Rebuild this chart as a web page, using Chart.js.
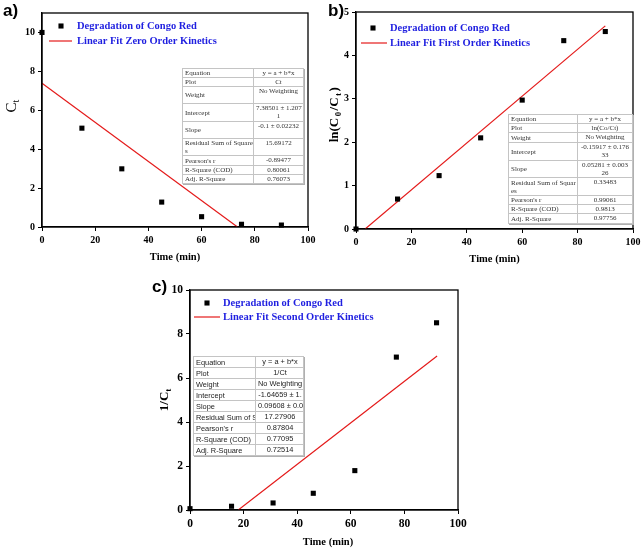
<!DOCTYPE html>
<html>
<head>
<meta charset="utf-8">
<script src="https://cdn.jsdelivr.net/npm/chart.js@4.4.1/dist/chart.umd.min.js"></script>
<style>
body { margin: 0; background: #fff; }
#page { position: relative; width: 644px; height: 550px; overflow: hidden; background: #fff; }
canvas { position: absolute; }
.lbl { position: absolute; font: bold 17px "Liberation Sans", Arial, sans-serif; color: #000; }
table.fit { position: absolute; border-collapse: collapse; table-layout: fixed; background: #fff; box-shadow: 1px 1px 0 #b0b0b0; }
table.fit td { border: 1px solid #c4c4c4; padding: 0 2px; overflow: hidden; white-space: pre; color: #333; }
table.fit td.v { text-align: center; vertical-align: top; }
table.fit td.k { vertical-align: middle; }
table.serif td { font: 7px/8px "Liberation Serif", serif; }
table.sans td { font: 7.4px/9px "Liberation Sans", sans-serif; color: #222; padding: 0 1px 0 2px; }
</style>
</head>
<body>
<div id="page">
  <canvas id="chartA" width="320" height="275" style="left:0;top:0"></canvas>
  <canvas id="chartB" width="324" height="275" style="left:320px;top:0"></canvas>
  <canvas id="chartC" width="330" height="270" style="left:150px;top:280px"></canvas>
  <div class="lbl" style="left:3px;top:1px">a)</div>
  <div class="lbl" style="left:328px;top:1px">b)</div>
  <div class="lbl" style="left:152px;top:277px">c)</div>
</div>
<script>
// a) zero order
const timeA = [0, 15, 30, 45, 60, 75, 90];
const ctValues = [10, 5.08, 2.99, 1.28, 0.53, 0.14, 0.1];
const fitZeroX = [0, 73.5];
const fitZeroY = [7.385, 0];

// b) first order
const timeB = [0, 15, 30, 45, 60, 75, 90];
const lnValues = [0, 0.69, 1.23, 2.1, 2.97, 4.34, 4.55];
const fitFirstX = [3.3, 90];
const fitFirstY = [0, 4.68];

// c) second order
const timeC = [0, 15.5, 31, 46, 61.5, 77, 92];
const invValues = [0.06, 0.17, 0.32, 0.76, 1.79, 6.95, 8.51];
const fitSecondX = [18, 92.2];
const fitSecondY = [0, 7.0];

const xTicks = [0, 20, 40, 60, 80, 100];

// fit tables
const keysA = ['Equation', 'Plot', 'Weight', 'Intercept', 'Slope', 'Residual Sum of Square\ns', "Pearson's r", 'R-Square (COD)', 'Adj. R-Square'];
const valsA = ['y = a + b*x', 'Ct', 'No Weighting', '7.38501 ± 1.207\n1', '-0.1 ± 0.02232', '15.69172', '-0.89477', '0.80061', '0.76073'];
const keysB = ['Equation', 'Plot', 'Weight', 'Intercept', 'Slope', 'Residual Sum of Squar\nes', "Pearson's r", 'R-Square (COD)', 'Adj. R-Square'];
const valsB = ['y = a + b*x', 'ln(Co/Ct)', 'No Weighting', '-0.15917 ± 0.176\n33', '0.05281 ± 0.003\n26', '0.33483', '0.99061', '0.9813', '0.97756'];
const keysC = ['Equation', 'Plot', 'Weight', 'Intercept', 'Slope', 'Residual Sum of S', "Pearson's r", 'R-Square (COD)', 'Adj. R-Square'];
const valsC = ['y = a + b*x', '1/Ct', 'No Weighting', '-1.64659 ± 1.', '0.09608 ± 0.0', '17.27906', '0.87804', '0.77095', '0.72514'];

const serif = '"Liberation Serif", "Times New Roman", serif';
const blue = '#1f1fe0';
const red = '#e41a1a';

function makeTable(keys, vals, rows, pos, cls) {
    const t = document.createElement('table');
    t.className = 'fit ' + cls;
    t.style.left = pos.left + 'px';
    t.style.top = pos.top + 'px';
    t.style.width = pos.w + 'px';
    const cg = document.createElement('colgroup');
    cg.innerHTML = '<col style="width:' + pos.kw + 'px"><col style="width:' + (pos.w - pos.kw) + 'px">';
    t.appendChild(cg);
    keys.forEach((k, i) => {
        const tr = document.createElement('tr');
        tr.style.height = rows[i] + 'px';
        const a = document.createElement('td'); a.className = 'k'; a.textContent = k;
        const b = document.createElement('td'); b.className = 'v'; b.textContent = vals[i];
        tr.appendChild(a); tr.appendChild(b);
        t.appendChild(tr);
    });
    document.getElementById('page').appendChild(t);
}

makeTable(keysA, valsA, [9, 9, 17, 18, 17, 17, 10, 8, 9], {left: 182, top: 68, w: 121, kw: 71}, 'serif');
makeTable(keysB, valsB, [9, 9, 10, 18, 17, 18, 9, 9, 10], {left: 508, top: 114, w: 124, kw: 69}, 'serif');
makeTable(keysC, valsC, [11, 11, 11, 11, 11, 11, 11, 11, 11], {left: 193, top: 356, w: 110, kw: 62}, 'sans');

// frame, legend and axis titles
const decor = {
    id: 'decor',
    afterDraw(chart, args, o) {
        const ctx = chart.ctx, a = chart.chartArea;
        ctx.save();
        ctx.strokeStyle = '#000';
        ctx.lineWidth = 1.3;
        ctx.strokeRect(a.left, a.top, a.right - a.left, a.bottom - a.top);

        // legend
        const lg = o.legend;
        ctx.fillStyle = '#000';
        Chart.helpers.drawPoint(ctx, {pointStyle: 'rect', radius: 3.6, rotation: 0, borderWidth: 0}, lg.mx, lg.y1);
        ctx.strokeStyle = red;
        ctx.lineWidth = 1.2;
        ctx.beginPath();
        ctx.moveTo(lg.l1, lg.y2);
        ctx.lineTo(lg.l2, lg.y2);
        ctx.stroke();
        ctx.fillStyle = blue;
        ctx.font = 'bold ' + lg.size + 'px ' + serif;
        ctx.textBaseline = 'middle';
        ctx.textAlign = 'left';
        ctx.fillText(lg.t1, lg.tx, lg.y1);
        ctx.fillText(lg.t2, lg.tx, lg.y2);

        // x title
        ctx.fillStyle = '#000';
        ctx.textAlign = 'center';
        ctx.font = 'bold 10.5px ' + serif;
        ctx.fillText('Time (min)', o.xt.x, o.xt.y);

        // y title with subscripts
        const yt = o.yt;
        ctx.translate(yt.x, yt.y);
        ctx.rotate(-Math.PI / 2);
        ctx.textAlign = 'left';
        const fnt = p => yt.weight + ' ' + (p.sub ? yt.size * 0.68 : yt.size) + 'px ' + serif;
        let total = 0;
        const widths = yt.parts.map(p => {
            ctx.font = fnt(p);
            const w = ctx.measureText(p.t).width + (yt.spacing || 0);
            total += w;
            return w;
        });
        let x = -total / 2;
        yt.parts.forEach((p, i) => {
            ctx.font = fnt(p);
            ctx.fillText(p.t, x, p.sub ? yt.size * 0.3 : 0);
            x += widths[i];
        });
        ctx.restore();
    }
};

function axes(yMax, yStep, yWidth, xHeight, tickSize) {
    const tickFont = {family: serif, size: tickSize, weight: 'bold'};
    const grid = {drawOnChartArea: false, color: '#000', tickLength: 4, lineWidth: 1};
    return {
        x: {
            type: 'linear', min: 0, max: 100,
            ticks: {stepSize: 20, color: '#000', font: tickFont, padding: 3, maxRotation: 0, includeBounds: false},
            afterBuildTicks: s => { s.ticks = xTicks.map(v => ({value: v})); },
            grid: grid,
            border: {color: '#000', width: 1.3},
            afterFit: s => { s.height = xHeight; }
        },
        y: {
            type: 'linear', min: 0, max: yMax,
            ticks: {stepSize: yStep, color: '#000', font: tickFont, padding: 3, includeBounds: false},
            grid: grid,
            border: {color: '#000', width: 1.3},
            afterFit: s => { s.width = yWidth; }
        }
    };
}

function pts(xs, ys) {
    return xs.map((x, i) => ({x: x, y: ys[i]}));
}

function makeChart(id, xs, ys, fx, fy, cfg) {
    return new Chart(document.getElementById(id), {
        type: 'scatter',
        data: {
            datasets: [{
                data: pts(xs, ys),
                pointStyle: 'rect',
                pointRadius: 3.6,
                backgroundColor: '#000',
                borderWidth: 0,
                clip: false
            }, {
                type: 'line',
                data: pts(fx, fy),
                borderColor: red,
                borderWidth: 1.2,
                pointRadius: 0,
                fill: false
            }]
        },
        options: {
            responsive: false,
            animation: false,
            layout: {padding: {left: 0, top: cfg.top, right: cfg.right, bottom: 0}},
            scales: axes(cfg.yMax, cfg.yStep, cfg.yWidth, cfg.xHeight, cfg.tickSize),
            plugins: {
                legend: {display: false},
                tooltip: {enabled: false},
                decor: cfg.decor
            }
        },
        plugins: [decor]
    });
}

makeChart('chartA', timeA, ctValues, fitZeroX, fitZeroY, {
    top: 13, right: 12, yWidth: 42, xHeight: 48, yMax: 11, yStep: 2, tickSize: 10,
    decor: {
        legend: {mx: 61, y1: 26, l1: 49, l2: 72, y2: 41, tx: 77, size: 10.5,
            t1: 'Degradation of Congo Red', t2: 'Linear Fit Zero Order Kinetics'},
        xt: {x: 175, y: 257},
        yt: {x: 12, y: 106, size: 15, weight: 'normal', parts: [{t: 'C'}, {t: 't', sub: true}]}
    }
});

makeChart('chartB', timeB, lnValues, fitFirstX, fitFirstY, {
    top: 12, right: 11, yWidth: 36, xHeight: 46, yMax: 5, yStep: 1, tickSize: 10,
    decor: {
        legend: {mx: 53, y1: 28, l1: 41, l2: 67, y2: 43, tx: 70, size: 10.5,
            t1: 'Degradation of Congo Red', t2: 'Linear Fit First Order Kinetics'},
        xt: {x: 174.5, y: 259},
        yt: {x: 15, y: 114, size: 13, weight: 'bold', spacing: 1.5,
            parts: [{t: 'ln(C'}, {t: '0', sub: true}, {t: '/C'}, {t: 't', sub: true}, {t: ')'}]}
    }
});

makeChart('chartC', timeC, invValues, fitSecondX, fitSecondY, {
    top: 10, right: 22, yWidth: 40, xHeight: 40, yMax: 10, yStep: 2, tickSize: 11.5,
    decor: {
        legend: {mx: 57, y1: 23, l1: 44, l2: 70, y2: 37, tx: 73, size: 10.5,
            t1: 'Degradation of Congo Red', t2: 'Linear Fit Second Order Kinetics'},
        xt: {x: 178, y: 262},
        yt: {x: 15, y: 120, size: 13, weight: 'bold', parts: [{t: '1/C'}, {t: 't', sub: true}]}
    }
});
</script>
</body>
</html>
